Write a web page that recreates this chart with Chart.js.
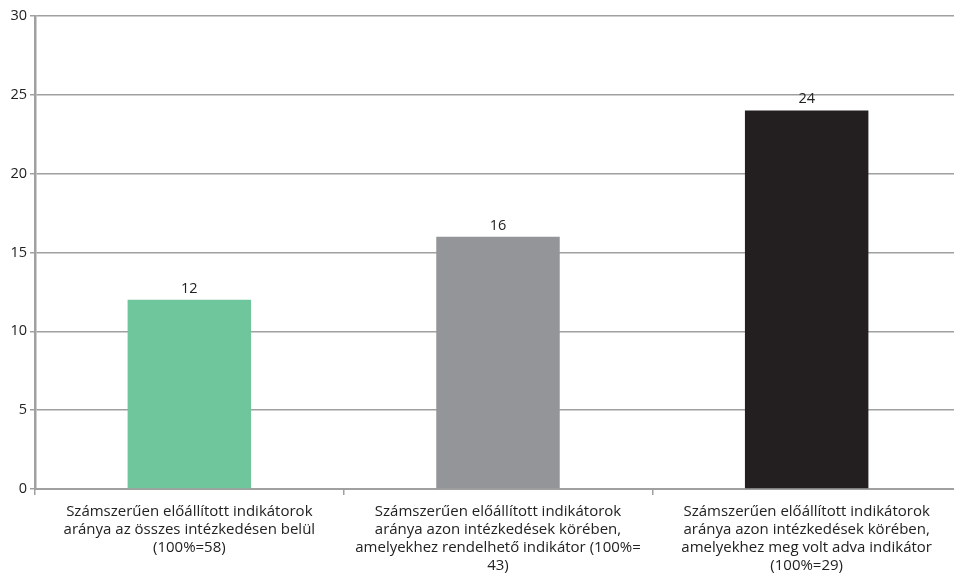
<!DOCTYPE html>
<html>
<head>
<meta charset="utf-8">
<script src="https://cdn.jsdelivr.net/npm/chart.js@4/dist/chart.umd.min.js"></script>
<style>
html,body{margin:0;padding:0;background:#fff;overflow:hidden;}
#wrap{width:954px;height:581px;position:relative;overflow:hidden;}
#c{display:block;}
</style>
</head>
<body>
<div id="wrap"><canvas id="c" width="961" height="581"></canvas></div>
<script>
const categories = [
  ["Számszerűen előállított indikátorok", "aránya az összes intézkedésen belül", "(100%=58)"],
  ["Számszerűen előállított indikátorok", "aránya azon intézkedések körében,", "amelyekhez rendelhető indikátor (100%=", "43)"],
  ["Számszerűen előállított indikátorok", "aránya azon intézkedések körében,", "amelyekhez meg volt adva indikátor", "(100%=29)"]
];
const values = [12, 16, 24];
const barColors = ["#70C69C", "#939598", "#231F20"];
const yTicks = [0, 5, 10, 15, 20, 25, 30];

const FONT = "'Open Sans', 'DejaVu Sans', sans-serif";

const valueLabels = {
  id: 'valueLabels',
  afterDatasetsDraw(chart) {
    const ctx = chart.ctx;
    const meta = chart.getDatasetMeta(0);
    ctx.save();
    ctx.font = "14.5px " + FONT;
    ctx.fillStyle = "#222";
    ctx.textAlign = "center";
    ctx.textBaseline = "bottom";
    meta.data.forEach((bar, i) => {
      ctx.fillText(String(values[i]), bar.x, bar.y - 4);
    });
    ctx.restore();
  }
};

new Chart(document.getElementById('c'), {
  type: 'bar',
  data: {
    labels: categories,
    datasets: [{
      data: values,
      backgroundColor: barColors,
      borderWidth: 0,
      categoryPercentage: 1.0,
      barPercentage: 0.4
    }]
  },
  options: {
    responsive: false,
    animation: false,
    devicePixelRatio: 1,
    layout: { padding: { top: 16, right: 0, left: 0, bottom: 0 } },
    plugins: { legend: { display: false }, tooltip: { enabled: false } },
    scales: {
      x: {
        offset: true,
        grid: { display: true, drawOnChartArea: false, drawTicks: true, tickLength: 6, offset: true, color: "#a0a0a0", lineWidth: 1.5 },
        border: { display: true, color: "#a0a0a0", width: 2 },
        ticks: {
          color: "#222",
          font: { family: FONT, size: 15, lineHeight: 1.2 },
          maxRotation: 0, minRotation: 0, autoSkip: false,
          padding: 8
        },
        afterFit(scale) { scale.height = 92; }
      },
      y: {
        min: 0, max: 30,
        afterBuildTicks(scale) { scale.ticks = yTicks.map(v => ({ value: v })); },
        grid: { color: "#a0a0a0", lineWidth: 1.5, drawTicks: true, tickLength: 5 },
        border: { display: true, color: "#a0a0a0", width: 2.5 },
        ticks: { color: "#222", font: { family: FONT, size: 14.5 }, padding: 3 },
        afterFit(scale) { scale.width = 35; }
      }
    }
  },
  plugins: [valueLabels]
});
</script>
</body>
</html>
